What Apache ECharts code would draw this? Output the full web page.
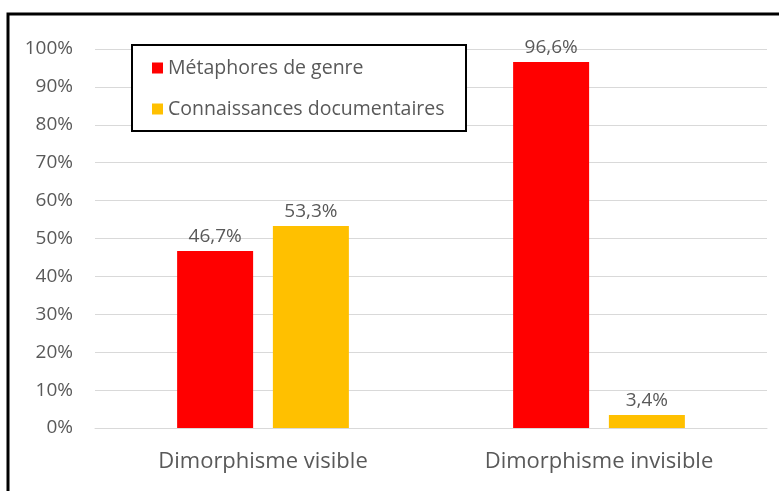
<!DOCTYPE html>
<html>
<head>
<meta charset="utf-8">
<script src="https://cdn.jsdelivr.net/npm/echarts@6/dist/echarts.min.js"></script>
<style>
  html, body { margin: 0; padding: 0; background: #fff; }
  #chart { width: 779px; height: 491px; }
</style>
</head>
<body>
<div id="chart"></div>
<script>
// données
const categories = ['Dimorphisme visible', 'Dimorphisme invisible'];
const seriesNames = ['Métaphores de genre', 'Connaissances documentaires'];
const metaphores = [46.7, 96.6];
const connaissances = [53.3, 3.4];
const yTicks = [0, 10, 20, 30, 40, 50, 60, 70, 80, 90, 100];

const fontFamily = '"Open Sans", "Liberation Sans", sans-serif';
const textColor = '#595959';

const chart = echarts.init(document.getElementById('chart'));

const fmt = v => v.toFixed(1).replace('.', ',') + '%';

chart.setOption({
  animation: false,
  textStyle: { fontFamily: fontFamily },
  grid: { left: 95, right: 12, top: 49, bottom: 63 },
  graphic: [
    {
      type: 'rect',
      z: 0,
      shape: { x: 8, y: 14, width: 800, height: 500 },
      style: { fill: 'none', stroke: '#000', lineWidth: 3 }
    },
    {
      type: 'rect',
      z: 3,
      shape: { x: 132, y: 45, width: 334, height: 86 },
      style: { fill: '#fff', stroke: '#000', lineWidth: 2 }
    }
  ],
  legend: {
    orient: 'vertical',
    left: 152,
    top: 58,
    padding: 0,
    itemGap: 21,
    itemWidth: 11,
    itemHeight: 11,
    icon: 'rect',
    z: 5,
    textStyle: { color: textColor, fontSize: 19.5, fontFamily: fontFamily },
    data: seriesNames
  },
  xAxis: {
    type: 'category',
    data: categories,
    axisLine: { lineStyle: { color: '#d9d9d9', width: 1 } },
    axisTick: { show: false },
    axisLabel: { color: textColor, fontSize: 22, margin: 23, fontFamily: fontFamily }
  },
  yAxis: {
    type: 'value',
    min: yTicks[0],
    max: yTicks[yTicks.length - 1],
    interval: 10,
    axisLine: { show: false },
    axisTick: { show: false },
    splitLine: { lineStyle: { color: '#d9d9d9', width: 1 } },
    axisLabel: {
      color: textColor,
      fontSize: 19,
      margin: 22,
      fontFamily: fontFamily,
      formatter: v => v + '%'
    }
  },
  series: [
    {
      name: seriesNames[0],
      type: 'bar',
      data: metaphores,
      barWidth: 76,
      barGap: '26%',
      itemStyle: { color: '#ff0000' },
      label: {
        show: true,
        position: 'top',
        distance: 5,
        color: textColor,
        fontSize: 19,
        formatter: p => fmt(p.value)
      }
    },
    {
      name: seriesNames[1],
      type: 'bar',
      data: connaissances,
      barWidth: 76,
      itemStyle: { color: '#ffc000' },
      label: {
        show: true,
        position: 'top',
        distance: 5,
        color: textColor,
        fontSize: 19,
        formatter: p => fmt(p.value)
      }
    }
  ]
});

window.addEventListener('resize', () => chart.resize());
</script>
</body>
</html>
